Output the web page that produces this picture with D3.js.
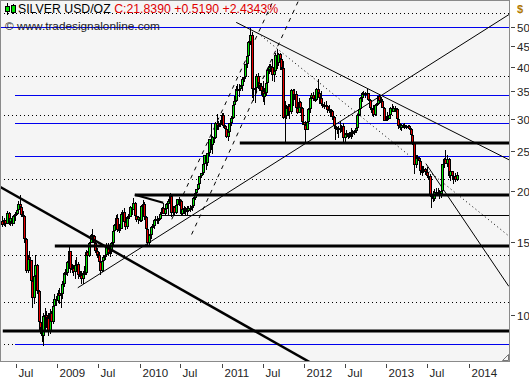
<!DOCTYPE html>
<html><head><meta charset="utf-8">
<script src="https://cdn.jsdelivr.net/npm/d3@7"></script>
<style>body{margin:0;background:#fff}svg{display:block}</style>
</head><body><svg id="c" width="529" height="380"></svg>
<script>
// ---------------- DATA ----------------
const firstWeek = "2008-05-02";
const firstOpen = 16.9;
const closes = [
 16.5,17.0,16.6,17.7,16.8,17.2,16.6,17.4,17.6,18.0,18.6,18.3,17.5,17.4,15.3,12.8,13.8,13.6,12.1,11.0,12.4,13.2,11.4,9.6,9.3,8.9,9.9,10.0,9.8,9.1,10.1,9.6,10.5,10.9,10.8,11.3,
 11.1,11.2,11.9,12.6,12.6,13.4,14.3,12.9,13.0,12.7,13.2,13.3,12.5,12.5,12.2,12.6,12.6,14.2,13.9,14.9,15.6,15.5,14.9,14.3,14.0,13.4,12.8,13.5,13.8,14.0,14.6,14.1,14.2,14.9,16.0,16.5,17.2,16.1,16.2,17.6,17.8,16.8,16.3,17.3,17.3,18.3,18.0,18.7,17.4,17.0,17.3,16.9,
 18.4,18.6,17.3,16.2,14.9,15.6,16.3,16.4,17.0,17.1,16.9,17.1,17.6,18.2,17.6,18.1,18.6,18.9,19.4,17.7,18.3,17.7,18.5,19.1,18.9,17.6,18.1,18.2,18.0,17.9,18.2,18.2,18.4,19.2,19.8,20.2,20.8,21.7,22.1,23.2,24.5,23.4,24.7,26.7,25.9,27.1,26.9,29.3,28.6,29.0,29.3,30.6,
 28.7,28.3,27.0,27.8,29.2,30.1,32.4,33.0,35.4,35.4,35.3,35.9,37.5,37.9,40.7,42.6,46.1,47.9,35.3,35.5,35.5,38.0,36.5,35.9,35.0,33.9,34.6,36.6,39.4,40.2,40.1,38.3,39.2,42.9,41.0,43.0,41.8,39.9,30.1,30.4,31.9,32.2,31.1,35.1,34.3,34.5,31.8,31.0,32.9,31.9,29.4,28.9,28.2,
 29.4,31.6,33.7,34.3,33.4,33.2,35.4,34.6,33.6,32.6,32.4,32.4,32.2,31.4,31.6,31.3,30.3,28.8,28.4,28.2,28.5,28.4,28.7,26.9,27.6,27.3,27.3,27.4,27.8,27.6,28.0,28.4,30.6,31.6,33.7,34.6,34.7,34.6,34.6,33.3,31.9,31.6,30.6,32.3,32.5,34.1,33.1,33.1,31.9,29.6,30.1,30.0,
 30.6,31.9,31.2,31.9,31.6,29.9,28.7,28.4,28.9,28.9,28.7,28.6,28.8,28.3,27.4,26.2,23.1,24.2,24.0,23.6,22.3,22.4,22.6,22.2,21.7,21.7,19.6,19.6,19.1,19.9,19.7,19.9,19.7,20.0,23.2,23.9,23.3,23.9,21.7,22.3,21.7,21.8,21.32,21.839
];
const highs = [
 17.4,17.2,17.0,17.9,17.8,17.4,17.3,17.5,17.8,18.4,18.9,19.5,18.4,17.9,17.5,15.4,14.0,14.3,13.6,12.3,12.8,14.0,13.3,11.5,10.4,9.6,10.1,10.4,10.2,10.1,10.3,10.2,10.6,11.2,11.1,11.5,
 11.6,11.4,12.1,12.7,12.9,13.5,14.6,14.3,13.3,13.2,13.6,13.8,13.4,12.8,12.8,12.8,13.1,14.4,14.3,15.0,15.7,16.2,15.6,15.1,14.5,14.2,13.6,13.6,14.0,14.2,14.9,14.9,14.4,15.0,16.1,16.6,17.5,17.6,16.6,17.6,18.0,18.2,16.9,17.4,17.6,18.4,18.5,19.2,18.8,17.8,17.4,17.6,
 18.5,19.0,18.8,17.4,16.5,15.7,16.4,16.6,17.1,17.4,17.4,17.2,17.8,18.3,18.7,18.2,18.7,19.1,19.8,19.4,18.4,18.4,18.6,19.1,19.3,19.0,18.2,18.4,18.3,18.4,18.4,18.5,18.6,19.3,19.9,20.2,20.9,21.7,22.1,23.2,24.5,24.6,24.8,26.8,29.3,27.2,27.6,29.4,30.7,29.6,29.8,31.0,
 30.9,29.0,28.6,27.8,29.3,30.5,32.5,34.0,36.0,36.4,36.3,36.2,37.9,38.2,40.8,43.0,46.2,49.8,48.7,39.4,36.3,38.4,38.7,37.5,36.6,37.1,35.5,37.0,39.6,40.6,40.8,41.9,40.6,43.2,44.3,43.4,43.2,42.8,41.4,33.0,32.4,32.6,32.5,35.3,35.3,35.4,35.0,32.9,33.6,33.1,32.0,29.5,29.6,
 30.0,31.8,33.9,34.6,34.9,34.1,35.6,37.5,35.0,35.0,33.3,32.9,33.0,32.4,32.3,31.6,31.4,30.5,29.1,28.6,28.7,29.6,28.9,29.2,27.7,28.2,27.6,27.8,28.4,28.2,28.1,28.5,30.7,31.8,33.8,34.9,35.0,34.9,35.4,34.7,33.4,32.3,32.3,32.4,32.7,34.1,34.5,33.8,33.5,32.0,30.5,31.2,
 30.8,32.0,32.5,32.2,32.1,31.8,30.0,29.2,29.1,29.1,29.2,29.0,29.0,28.9,28.5,28.2,26.3,24.4,24.5,24.2,23.6,23.0,23.0,22.8,22.9,22.2,22.0,20.2,20.0,20.2,20.3,20.3,20.1,20.1,23.3,24.0,25.1,24.4,24.0,23.6,22.3,22.1,22.1,22.2
];
const lows = [
 16.3,16.4,16.3,16.6,16.5,16.4,16.4,16.6,16.9,17.5,17.9,18.2,17.3,17.1,14.9,12.6,12.6,13.3,11.8,10.4,10.6,12.2,11.2,9.2,9.0,8.6,8.4,9.2,9.3,8.9,9.0,9.4,9.5,10.3,10.5,10.7,
 10.6,10.4,10.9,11.7,12.2,12.4,13.3,12.6,12.6,12.4,12.2,12.9,12.2,12.2,11.9,11.9,12.3,12.5,13.6,13.8,14.9,15.0,14.7,14.1,13.7,13.3,12.5,12.7,13.4,13.6,13.9,13.9,13.8,14.1,14.6,15.8,16.4,15.9,15.8,16.2,17.2,16.7,16.1,16.2,16.9,17.3,17.5,18.0,17.0,16.8,16.6,16.8,
 16.8,18.0,17.0,16.1,14.8,14.6,15.3,15.7,16.2,16.8,16.6,16.6,17.0,17.6,17.6,17.5,17.9,17.5,18.6,17.3,17.4,17.4,17.6,18.3,18.4,17.5,17.5,17.6,17.5,17.4,17.8,17.8,17.9,18.3,19.0,19.6,20.1,20.6,21.5,21.9,23.1,22.5,23.0,24.3,25.2,24.6,26.2,26.7,28.1,28.2,28.6,29.2,
 28.4,28.1,26.9,26.4,27.5,28.8,30.0,32.0,32.9,34.6,33.8,35.0,35.0,36.9,37.9,39.7,42.4,45.2,33.6,33.1,32.8,34.7,35.4,35.0,34.3,32.9,32.4,34.1,35.9,38.6,38.9,37.1,36.9,38.9,39.6,40.3,39.4,39.4,29.9,26.1,29.9,30.6,30.0,30.8,32.1,33.3,31.6,30.7,30.9,31.6,28.9,28.3,26.2,
 28.1,29.0,31.0,33.0,33.1,32.9,33.1,34.1,32.5,32.3,31.8,31.6,31.5,31.0,31.0,30.3,29.8,28.3,26.6,27.5,26.9,27.7,27.8,26.3,26.1,26.9,26.7,26.9,26.7,27.1,27.4,27.6,28.3,30.4,31.3,32.9,33.7,33.7,34.1,33.1,31.7,31.0,30.2,30.5,31.8,32.3,33.0,32.6,31.8,29.6,29.6,29.7,
 29.9,30.4,31.1,31.1,31.2,29.8,28.3,28.2,28.0,28.5,28.3,28.3,28.4,28.1,26.8,25.9,22.0,22.7,23.4,23.0,21.9,21.8,22.1,21.9,21.6,21.3,19.6,18.2,18.8,18.9,19.5,19.5,19.1,19.2,20.0,22.7,23.2,22.9,21.5,21.1,21.3,20.8,21.0,21.1
];
const dottedLevels = [54.06, 38.06, 30.54, 21.34, 13.95, 10.72, 8.49];
const blueLevels = [
 {v:50.0, from:"2008-04-21"}, {v:34.16, from:"2008-06-27"}, {v:29.20, from:"2008-06-27"},
 {v:24.28, from:"2008-06-27"}, {v:8.48, from:"2008-06-27"}];
const thickLevels = [
 {v:26.11, from:"2011-03-22"}, {v:19.58, from:"2009-12-11"},
 {v:14.72, from:"2008-12-21"}, {v:9.14, from:"2008-05-04"}];
const thinLevels = [{v:17.48, from:"2010-04-01"}];
const trendThick = [["2008-04-21",20.48],["2012-01-26",7.669]];
const trendShort = [["2009-12-11",19.58],["2010-04-16",18.72]];
const trendUp = [["2009-04-02",11.63],["2014-07-24",54.8]];
const trendDown = [["2011-03-06",51.4],["2014-07-24",23.43]];
const trendDashA = [["2010-05-24",17.06],["2011-08-29",59.9]];
const trendDashB = [["2010-08-20",15.67],["2011-12-19",59.9]];
const trendDotted = [["2011-06-10",48.42],["2014-06-28",15.54]];
const trendSteep = [["2013-06-25",23.3],["2014-06-28",11.72]];
const xTicks = ["2008-07-01","2009-01-01","2009-07-01","2010-01-01","2010-07-01","2011-01-01","2011-07-01","2012-01-01","2012-07-01","2013-01-01","2013-07-01","2014-01-01"];
const xTickLabels = ["Jul","2009","Jul","2010","Jul","2011","Jul","2012","Jul","2013","Jul","2014"];
const yTicks = [10,15,20,25,30,35,40,45,50];
const legendName = "SILVER USD/OZ";
const legendQuote = "C:21.8390 +0.5190 +2.4343%";
const copyright = "\u00A9 www.tradesignalonline.com";

// ---------------- CHART ----------------
const FONT = "'Liberation Sans', Arial, sans-serif";
const svg = d3.select("#c");
const P = {l:0, t:0, r:509, b:361};
const pd = d3.timeParse("%Y-%m-%d");
const x = d3.scaleTime().domain([new Date(2009,0,1), new Date(2014,0,1)]).range([57.3, 468.7]);
const y = d3.scaleLog().domain([10,50]).range([314.7, 27.3]);
const snap = v => Math.round(v) + 0.5;

svg.append("rect").attr("width",529).attr("height",380).attr("fill","#fff");
svg.append("rect").attr("x",P.l+0.5).attr("y",P.t+0.5).attr("width",P.r-P.l).attr("height",P.b-P.t)
  .attr("fill","#f5f5f5").attr("stroke","none");
svg.append("clipPath").attr("id","clip").append("rect")
  .attr("x",P.l+1).attr("y",P.t+1).attr("width",P.r-P.l-1).attr("height",P.b-P.t-1);
const g = svg.append("g").attr("clip-path","url(#clip)");

// dotted grid levels
g.selectAll(".dl").data(dottedLevels).join("line")
  .attr("x1",P.l).attr("x2",P.r).attr("y1",d=>snap(y(d))).attr("y2",d=>snap(y(d)))
  .attr("stroke","#000").attr("stroke-width",1).attr("stroke-dasharray","1,3");
// blue levels
g.selectAll(".bl").data(blueLevels).join("line")
  .attr("x1",d=>x(pd(d.from))).attr("x2",P.r).attr("y1",d=>snap(y(d.v))).attr("y2",d=>snap(y(d.v)))
  .attr("stroke","#0000ee").attr("stroke-width",1).attr("shape-rendering","crispEdges");
// thin black levels
g.selectAll(".tl").data(thinLevels).join("line")
  .attr("x1",d=>x(pd(d.from))).attr("x2",P.r).attr("y1",d=>snap(y(d.v))).attr("y2",d=>snap(y(d.v)))
  .attr("stroke","#000").attr("stroke-width",1);

// trend lines
const lineGen = d3.line().x(d=>x(pd(d[0]))).y(d=>y(d[1]));
function trend(pts, w, dash){
  g.append("path").attr("d",lineGen(pts)).attr("fill","none").attr("stroke","#000")
   .attr("stroke-width",w).attr("stroke-dasharray",dash||null);
}
trend(trendUp,1);
trend(trendDown,1);
trend(trendDashA,1,"4,5");
trend(trendDashB,1,"4,5");
trend(trendDotted,1,"1,3");
trend(trendSteep,1);

// candles
const start = pd(firstWeek);
const bars = closes.map((c,i)=>({
  date: d3.timeDay.offset(start, 7*i),
  o: i===0 ? firstOpen : closes[i-1], h: highs[i], l: lows[i], c: c
}));
const cg = g.append("g").attr("shape-rendering","crispEdges");
bars.forEach(b=>{
  const cx = Math.round(x(b.date));
  const top = y(Math.max(b.o,b.c)), bot = y(Math.min(b.o,b.c));
  const hi = Math.min(y(b.h), top), lo = Math.max(y(b.l), bot);
  cg.append("rect").attr("x",cx).attr("y",Math.round(hi)).attr("width",1).attr("height",Math.max(1,Math.round(lo)-Math.round(hi))).attr("fill","#000");
  const t = Math.round(top), h = Math.max(2, Math.round(bot)-t);
  cg.append("rect").attr("x",cx-1).attr("y",t).attr("width",3).attr("height",h).attr("fill","#000");
  cg.append("rect").attr("x",cx).attr("y",t+1).attr("width",1).attr("height",Math.max(0,h-2))
    .attr("fill", b.c>=b.o ? "#00e600" : "#e60000");
});

// thick levels & thick trends (over candles)
g.selectAll(".kl").data(thickLevels).join("line")
  .attr("x1",d=>x(pd(d.from))).attr("x2",P.r).attr("y1",d=>Math.round(y(d.v))).attr("y2",d=>Math.round(y(d.v)))
  .attr("stroke","#000").attr("stroke-width",3);
trend(trendThick,2.5);
trend(trendShort,2);

// frame
svg.append("rect").attr("x",P.l+0.5).attr("y",P.t+0.5).attr("width",P.r-P.l).attr("height",P.b-P.t)
  .attr("fill","none").attr("stroke","#8a8a8a");
svg.append("path").attr("d",`M${P.r-6.5},${P.b-0.5}L${P.r-0.5},${P.b-6.5}M${P.r-6.5},${P.b-0.5}H${P.r-0.5}V${P.b-6.5}`)
  .attr("fill","none").attr("stroke","#777");

// right axis
const ay = svg.append("g");
yTicks.forEach(v=>{
  const yy = snap(y(v));
  ay.append("line").attr("x1",P.r+2).attr("x2",P.r+6).attr("y1",yy).attr("y2",yy).attr("stroke","#444");
  ay.append("text").attr("x",P.r+8).attr("y",yy+4).text(v)
    .attr("font-family",FONT).attr("font-size",11.5).attr("fill","#222");
});
ay.append("text").attr("x",P.r+8).attr("y",13).text("$")
  .attr("font-family",FONT).attr("font-size",11).attr("font-weight","bold").attr("fill","#b07800");

// bottom axis
const ax = svg.append("g");
xTicks.forEach((d,i)=>{
  const xx = snap(x(pd(d)));
  ax.append("line").attr("x1",xx).attr("x2",xx).attr("y1",P.b+3).attr("y2",P.b+7).attr("stroke","#444");
  ax.append("text").attr("x",xx+2).attr("y",P.b+16).text(xTickLabels[i])
    .attr("font-family",FONT).attr("font-size",11.5).attr("fill","#222");
});

// legend
const lg = svg.append("g");
[[7,3,15,6,11],[13,4,14,5,12]].forEach(([cx,h0,h1,b0,b1])=>{
  lg.append("line").attr("x1",cx+0.5).attr("x2",cx+0.5).attr("y1",h0).attr("y2",h1).attr("stroke","#000");
  lg.append("rect").attr("x",cx-1.5).attr("y",b0+0.5).attr("width",4).attr("height",b1-b0)
    .attr("fill","#00e600").attr("stroke","#000");
});
const lt = lg.append("text").attr("x",18).attr("y",13).attr("font-family",FONT).attr("font-size",12.3);
lt.append("tspan").attr("fill","#000").text(legendName+" ");
lt.append("tspan").attr("fill","#e00000").text(legendQuote);
lg.append("text").attr("x",5).attr("y",30).attr("font-family",FONT).attr("font-size",11.8)
  .attr("fill","#222").text(copyright);
</script></body></html>
